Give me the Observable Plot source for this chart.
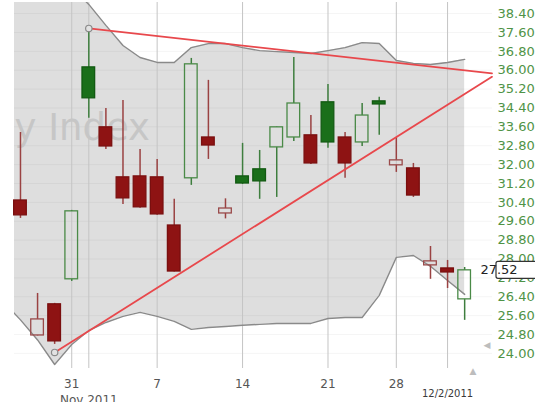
<!DOCTYPE html>
<html><head><meta charset="utf-8">
<script src="https://cdn.jsdelivr.net/npm/d3@7"></script>
<script src="https://cdn.jsdelivr.net/npm/@observablehq/plot@0.6"></script>
<style>
html,body{margin:0;padding:0;background:#fff;}
#chart{width:535px;height:402px;overflow:hidden;}
</style></head><body><div id="chart"></div>
<script>
// ---- data ----
const dates = ["Oct 26","Oct 27","Oct 28","Oct 31","Nov 1","Nov 2","Nov 3","Nov 4","Nov 7","Nov 8","Nov 9","Nov 10","Nov 11","Nov 14","Nov 15","Nov 16","Nov 17","Nov 18","Nov 21","Nov 22","Nov 23","Nov 25","Nov 28","Nov 29","Nov 30","Dec 1","Dec 2"];
const open  = [30.48,24.76,26.08,27.14,36.12,33.58,31.46,31.50,31.46,29.42,31.42,33.15,29.93,31.50,31.80,32.73,33.15,33.24,34.64,33.15,32.94,34.68,31.97,31.84,27.73,27.60,26.29];
const high  = [33.36,26.54,26.12,30.06,37.77,34.38,34.72,32.64,32.22,30.53,36.50,35.57,30.55,32.90,32.60,33.60,36.54,34.08,35.40,33.36,34.59,34.85,33.15,32.05,28.53,27.94,27.64];
const low   = [29.72,24.74,24.38,27.05,33.96,32.64,30.31,30.15,29.85,27.45,31.12,32.22,29.70,31.16,30.53,30.61,32.98,32.01,32.69,31.42,32.77,33.24,31.67,30.61,27.14,26.75,25.40];
const close = [29.85,25.44,24.51,30.02,34.81,32.77,30.57,30.19,29.89,27.47,36.25,32.81,30.14,31.20,31.29,33.58,34.59,32.05,32.94,32.05,34.08,34.55,32.18,30.69,27.90,27.43,27.52];
const priorClose = 30.90;

// Bollinger bands (first value is for the session before the first visible candle)
const bandDates = ["Oct 25", ...dates];
const bbUpper = [41.2,40.8,40.4,40.0,39.5,38.79,37.90,37.05,36.54,36.33,36.33,36.96,37.13,37.13,36.96,36.83,36.79,36.75,36.71,36.83,36.96,37.17,37.13,36.41,36.29,36.24,36.33,36.46];
const bbLower = [26.20,25.42,24.57,23.53,24.38,24.97,25.31,25.57,25.74,25.57,25.36,25.02,25.10,25.14,25.19,25.23,25.27,25.27,25.27,25.48,25.52,25.52,26.46,28.07,28.15,27.69,27.09,26.50];

// trend lines: start session index/value, end (right edge) index/value
const trendUpperX = [4, 27.6];
const trendUpperY = [37.77, 35.87];
const trendLowerX = [2, 27.6];
const trendLowerY = [24.04, 35.72];

const yTicks = [24.00,24.80,25.60,26.40,27.20,28.00,28.80,29.60,30.40,31.20,32.00,32.80,33.60,34.40,35.20,36.00,36.80,37.60,38.40];
const gridDates = ["Oct 31","Nov 1","Nov 7","Nov 14","Nov 21","Nov 28","Dec 1"];
const xTickDates = ["Oct 31","Nov 7","Nov 14","Nov 21","Nov 28"];
const xTickLabels = ["31","7","14","21","28"];
const monthLabelDate = "Nov 1", monthLabel = "Nov 2011";
const endLabelDate = "Dec 1", endLabel = "12/2/2011";
const watermark = "y Index";
const lastPrice = close[close.length - 1];

// ---- derived tables ----
const idx = d => dates.indexOf(d);
const candles = dates.map((d, i) => {
  const o = open[i], c = close[i], prev = i ? close[i - 1] : priorClose;
  return {i, date: d, open: o, high: high[i], low: low[i], close: c,
    up: c >= prev, hollow: c > o, top: Math.max(o, c), bot: Math.min(o, c)};
});
const band = bandDates.map((d, k) => ({i: k - 1, upper: bbUpper[k], lower: bbLower[k]}));
const trendU = trendUpperX.map((x, k) => ({x, y: trendUpperY[k]}));
const trendL = trendLowerX.map((x, k) => ({x, y: trendLowerY[k]}));

const W = 0.37;
function body(data, fill, stroke) {
  return Plot.rect(data, {x1: d => d.i - W, x2: d => d.i + W, y1: "bot", y2: "top", fill, stroke, strokeWidth: 1.3});
}
const groups = [
  {f: d => d.up && !d.hollow, fill: "#1a6f1a", stroke: "#125a12", wick: "#3e7e3e"},
  {f: d => d.up && d.hollow, fill: "none", stroke: "#4a8a47", wick: "#3e7e3e"},
  {f: d => !d.up && !d.hollow, fill: "#8e1313", stroke: "#7a0f0f", wick: "#9a4242"},
  {f: d => !d.up && d.hollow, fill: "none", stroke: "#9a4a4a", wick: "#9a4242"}
];
const candleMarks = groups.flatMap(g => {
  const data = candles.filter(g.f);
  return [
    Plot.ruleX(data, {x: "i", y1: "high", y2: "top", stroke: g.wick, strokeWidth: 1.5}),
    Plot.ruleX(data, {x: "i", y1: "bot", y2: "low", stroke: g.wick, strokeWidth: 1.5}),
    body(data, g.fill, g.stroke)
  ];
});

const plot = Plot.plot({
  width: 535, height: 402,
  marginLeft: 14, marginRight: 43, marginTop: 2, marginBottom: 34,
  style: {fontFamily: "'DejaVu Sans', Verdana, sans-serif", fontSize: "12px", background: "#fff", overflow: "visible"},
  x: {domain: [-0.35, 27.63], axis: null},
  y: {domain: [23.36, 38.87], axis: null},
  marks: [
    Plot.areaY(band, {x: "i", y1: "lower", y2: "upper", fill: "#dedede", clip: true}),
    Plot.ruleY(yTicks, {stroke: "#000", strokeOpacity: 0.045}),
    Plot.ruleX(gridDates.map(idx), {stroke: "#c4c4c4", strokeWidth: 1}),
    Plot.lineY(band, {x: "i", y: "upper", stroke: "#8a8a8a", strokeWidth: 1.4, clip: true}),
    Plot.lineY(band, {x: "i", y: "lower", stroke: "#8a8a8a", strokeWidth: 1.4, clip: true}),
    Plot.text([watermark], {text: d => d, frameAnchor: "top-left", textAnchor: "start", lineAnchor: "middle", dx: 0, dy: 126, fontSize: 37, fill: "#c6c6c6"}),
    ...candleMarks,
    Plot.line(trendU, {x: "x", y: "y", stroke: "#e8484c", strokeWidth: 1.8}),
    Plot.line(trendL, {x: "x", y: "y", stroke: "#e8484c", strokeWidth: 1.8}),
    Plot.dot([trendU[0], trendL[0]], {x: "x", y: "y", r: 3.2, fill: "#e2e2e2", stroke: "#8a8a8a", strokeWidth: 1.2}),
    Plot.axisY({anchor: "right", ticks: yTicks, tickFormat: d => d.toFixed(2), tickSize: 0, tickPadding: 5, color: "#4f9346", fill: "#4f9346", fontSize: 13, label: null}),
    Plot.axisX({ticks: xTickDates.map(idx), tickFormat: i => xTickLabels[xTickDates.indexOf(dates[i])], tickSize: 0, tickPadding: 11, color: "#555", fill: "#555", fontSize: 12, label: null}),
    Plot.text([endLabel], {text: d => d, x: idx(endLabelDate), frameAnchor: "bottom", lineAnchor: "top", dy: 21, fontSize: 10, fill: "#3a3a3a"}),
    Plot.text([monthLabel], {text: d => d, x: idx(monthLabelDate), frameAnchor: "bottom", lineAnchor: "top", dy: 27, fontSize: 12, fill: "#555"})
  ]
});
document.getElementById("chart").appendChild(plot);

// current price marker on the right axis
const svg = d3.select(plot);
const yp = plot.scale("y").apply(lastPrice);
const g = svg.append("g");
g.append("rect").attr("x", 496).attr("y", yp - 8.5).attr("width", 50).attr("height", 17).attr("rx", 2)
  .attr("fill", "#fff").attr("stroke", "#333").attr("stroke-width", 1.2);
g.append("text").attr("x", 499).attr("y", yp).attr("dy", "0.35em").attr("font-size", 13)
  .attr("fill", "#222").text(lastPrice.toFixed(2));
// scroll indicators
svg.append("text").attr("x", 487).attr("y", 348).attr("font-size", 9).attr("fill", "#bdbdbd").text("◀");
svg.append("text").attr("x", 473).attr("y", 374).attr("font-size", 9).attr("fill", "#bdbdbd").text("▲");
</script></body></html>
